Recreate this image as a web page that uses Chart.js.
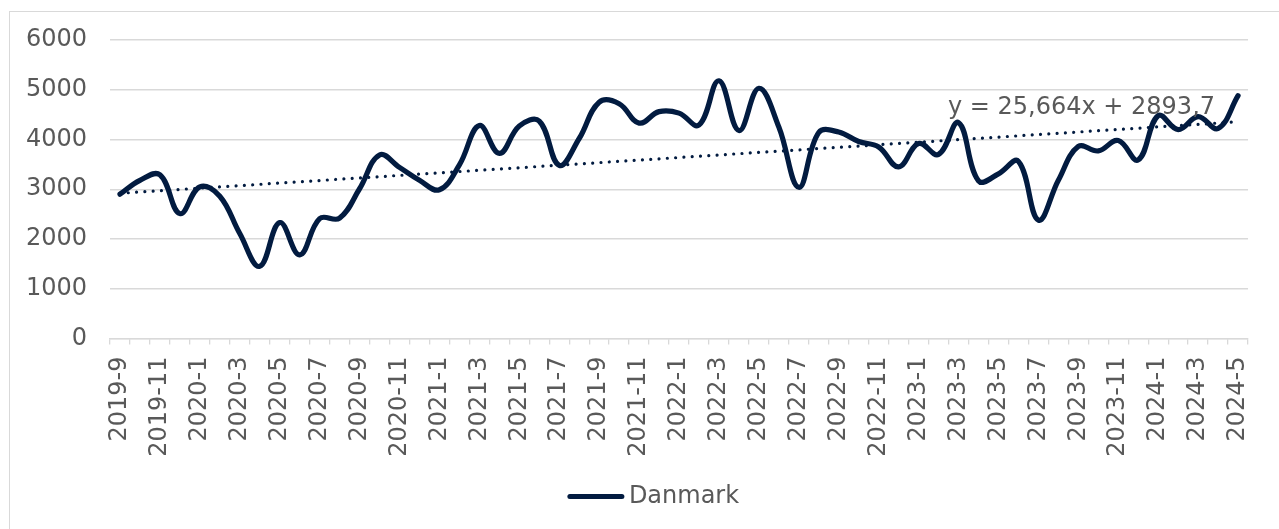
<!DOCTYPE html>
<html>
<head>
<meta charset="utf-8">
<script src="https://cdn.jsdelivr.net/npm/chart.js@4/dist/chart.umd.min.js"></script>
<style>
  html, body { margin: 0; padding: 0; background: #fff; overflow: hidden; }
  #frame { position: absolute; left: 8.5px; top: 10.5px; width: 1400px; height: 700px; border: 1.5px solid #d9d9d9; box-sizing: border-box; }
  #wrap { position: absolute; left: 0; top: 0; width: 1279px; height: 529px; }
</style>
</head>
<body>
<div id="frame"></div>
<div id="wrap"><canvas id="c"></canvas></div>
<script>
const categories = [
  '2019-9','2019-10','2019-11','2019-12',
  '2020-1','2020-2','2020-3','2020-4','2020-5','2020-6','2020-7','2020-8','2020-9','2020-10','2020-11','2020-12',
  '2021-1','2021-2','2021-3','2021-4','2021-5','2021-6','2021-7','2021-8','2021-9','2021-10','2021-11','2021-12',
  '2022-1','2022-2','2022-3','2022-4','2022-5','2022-6','2022-7','2022-8','2022-9','2022-10','2022-11','2022-12',
  '2023-1','2023-2','2023-3','2023-4','2023-5','2023-6','2023-7','2023-8','2023-9','2023-10','2023-11','2023-12',
  '2024-1','2024-2','2024-3','2024-4','2024-5'
];
const danmark = [
  2900, 3180, 3290, 2510,
  3050, 2860, 2110, 1450, 2330, 1680, 2410, 2420, 3010, 3690, 3440, 3180,
  2990, 3490, 4280, 3720, 4270, 4370, 3480, 4020, 4750, 4720, 4330, 4560,
  4530, 4290, 5180, 4180, 5030, 4250, 3040, 4140, 4150, 3960, 3850, 3450,
  3920, 3700, 4340, 3170, 3310, 3560, 2380, 3180, 3860, 3770, 3980, 3590,
  4480, 4200, 4460, 4220, 4880
];
// Linear trendline end values (y = 25,664x + 2893,7 at x=1 and x=57)
const trendStart = 2919.4;
const trendEnd = 4356.5;
const trendLabel = 'y = 25,664x + 2893,7';
const yTicks = [0, 1000, 2000, 3000, 4000, 5000, 6000];
const seriesName = 'Danmark';

const NAVY = '#021b40';
const GREY = '#595959';
const GRID = '#d9d9d9';
const FONT = "'DejaVu Sans', Verdana, sans-serif";

const extras = {
  id: 'extras',
  afterDatasetsDraw(chart) {
    const ctx = chart.ctx;
    const area = chart.chartArea;
    const ys = chart.scales.y;
    ctx.save();
    // trendline equation label
    ctx.font = '24px ' + FONT;
    ctx.fillStyle = GREY;
    ctx.textAlign = 'right';
    ctx.textBaseline = 'alphabetic';
    ctx.fillText(trendLabel, area.right - 33, ys.getPixelForValue(4520));
    // legend
    const textW = ctx.measureText(seriesName).width;
    const lineW = 56, gap = 5;
    const total = lineW + gap + textW;
    const x0 = chart.width / 2 + 14 - total / 2;
    const yL = 496.5;
    ctx.strokeStyle = NAVY;
    ctx.lineWidth = 5;
    ctx.lineCap = 'round';
    ctx.beginPath();
    ctx.moveTo(x0 + 2, yL);
    ctx.lineTo(x0 + lineW - 2, yL);
    ctx.stroke();
    ctx.textAlign = 'left';
    ctx.textBaseline = 'middle';
    ctx.fillText(seriesName, x0 + lineW + gap, yL);
    ctx.restore();
  }
};

new Chart(document.getElementById('c'), {
  type: 'line',
  data: {
    labels: categories,
    datasets: [
      {
        label: seriesName,
        data: danmark,
        borderColor: NAVY,
        borderWidth: 5.2,
        tension: 0.4,
        pointRadius: 0,
        borderCapStyle: 'round',
        borderJoinStyle: 'round',
        fill: false,
        order: 1
      },
      {
        label: 'Trend',
        data: [{ x: categories[0], y: trendStart }, { x: categories[categories.length - 1], y: trendEnd }],
        borderColor: NAVY,
        borderWidth: 3.2,
        borderDash: [0.01, 8.3],
        borderCapStyle: 'round',
        pointRadius: 0,
        tension: 0,
        fill: false,
        order: 0
      }
    ]
  },
  options: {
    responsive: true,
    maintainAspectRatio: false,
    animation: false,
    devicePixelRatio: 1,
    layout: { padding: { left: 0, right: 17, top: 40, bottom: 0 } },
    plugins: {
      legend: { display: false },
      tooltip: { enabled: false }
    },
    scales: {
      x: {
        type: 'category',
        offset: true,
        grid: {
          offset: true,
          drawOnChartArea: false,
          drawTicks: true,
          tickLength: 6,
          color: GRID,
          lineWidth: 1.3
        },
        border: { display: true, color: GRID, width: 1.3 },
        ticks: {
          autoSkip: false,
          maxRotation: 90,
          minRotation: 90,
          padding: 12,
          color: GREY,
          font: { family: FONT, size: 24 },
          callback: function (val, i) { return i % 2 === 0 ? categories[i] : ''; }
        },
        afterFit(scale) { scale.height = 529 - 338.5; }
      },
      y: {
        min: 0,
        max: 6000,
        afterBuildTicks(scale) { scale.ticks = yTicks.map(v => ({ value: v })); },
        grid: { color: GRID, lineWidth: 1.5, drawTicks: false },
        border: { display: false },
        ticks: {
          padding: 23,
          color: GREY,
          font: { family: FONT, size: 24 },
          callback: function (v) { return String(v); }
        },
        afterFit(scale) { scale.width = 110; }
      }
    }
  },
  plugins: [extras]
});
</script>
</body>
</html>
